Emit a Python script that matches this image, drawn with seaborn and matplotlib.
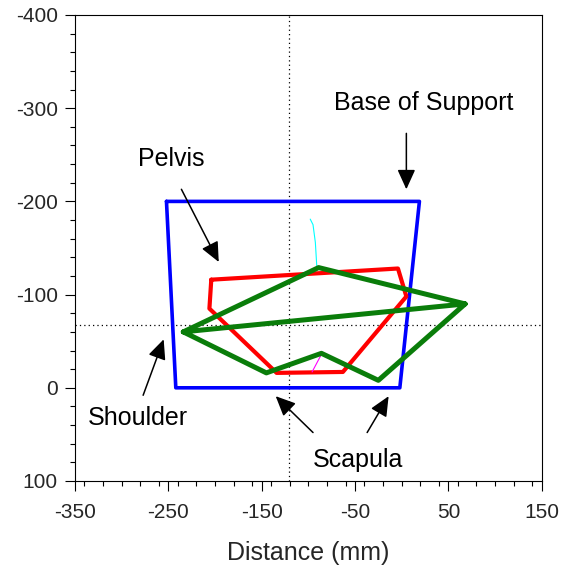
import numpy as np
import matplotlib
matplotlib.use("Agg")
import matplotlib.pyplot as plt
from matplotlib.ticker import MultipleLocator
import seaborn as sns

# Base of support (blue quadrilateral), closed
bos_x = [-252, 19, -2, -242, -252]
bos_y = [-200, -200, 0, 0, -200]

# Pelvis outline (red), closed
pelvis_x = [-204, -4, 5, -63, -134, -206, -204]
pelvis_y = [-116, -128, -98, -17, -16, -85, -116]

# Shoulder / scapula outline (green), traced as one path
scap_x = [-234, -89, 68, -234, -145, -86, -25, 68]
scap_y = [-60, -129, -90, -60, -16, -37, -8, -90]

# thin trace lines
cyan_x = [-98, -95, -92.5, -91]
cyan_y = [-181, -175, -156, -131]
magenta_x = [-96, -87]
magenta_y = [-17, -34]

# reference cross-hair
cross_x = -121
cross_y = -67

# annotations: label, text position, arrow tail, arrow tip
labels = ["Base of Support", "Pelvis", "Shoulder", "Scapula"]
label_pos = [(-73, -306), (-282, -246), (-336, 32), (-95, 77)]
arrows = [((5, -273), (5, -213)),
          ((-236, -213), (-196, -135)),
          ((-277, 8), (-255, -52)),
          ((-95, 48), (-135, 9)),
          ((-37, 48), (-14, 9))]

sns.set_style("ticks")
plt.rcParams['font.family'] = ['Liberation Sans', 'DejaVu Sans']
plt.rcParams['axes.unicode_minus'] = False

fig = plt.figure(figsize=(5.69, 5.68), dpi=100)
ax = fig.add_axes([75 / 569, 1 - 481 / 568, (541.7 - 75) / 569, (481 - 15) / 568])

ax.axvline(cross_x, color="black", lw=0.9, ls=(0, (1, 2.5)), zorder=1)
ax.axhline(cross_y, color="black", lw=0.9, ls=(0, (1, 2.5)), zorder=1)

sns.lineplot(x=bos_x, y=bos_y, sort=False, estimator=None, color="#0000ff", lw=2.6, ax=ax)
sns.lineplot(x=pelvis_x, y=pelvis_y, sort=False, estimator=None, color="#ff0000", lw=3.0, ax=ax)
sns.lineplot(x=cyan_x, y=cyan_y, sort=False, estimator=None, color="#00ffff", lw=0.8, ax=ax)
sns.lineplot(x=magenta_x, y=magenta_y, sort=False, estimator=None, color="#ff00ff", lw=0.8, ax=ax)
sns.lineplot(x=scap_x, y=scap_y, sort=False, estimator=None, color="#0a7d0a", lw=3.6, ax=ax)

for lab, (tx, ty) in zip(labels, label_pos):
    ax.text(tx, ty, lab, fontsize=18, ha="left", va="center", color="black")
for tail, tip in arrows:
    ax.annotate("", xy=tip, xytext=tail,
                arrowprops=dict(arrowstyle="-|>,head_length=0.55,head_width=0.25",
                                mutation_scale=22, lw=1.1, color="black",
                                shrinkA=0, shrinkB=0),
                annotation_clip=False)

ax.set_xlim(-350, 150)
ax.set_ylim(100, -400)
ax.set_xticks(np.arange(-350, 151, 100))
ax.set_yticks(np.arange(-400, 101, 100))
ax.xaxis.set_minor_locator(MultipleLocator(20))
ax.yaxis.set_minor_locator(MultipleLocator(20))
ax.tick_params(which="major", length=7.5, width=0.8, labelsize=15, pad=5, color="black")
ax.tick_params(axis="x", which="major", pad=8)
ax.tick_params(which="minor", length=3.8, width=0.8, color="black")
ax.tick_params(top=False, right=False, which="both")
for s in ax.spines.values():
    s.set_linewidth(0.8)
    s.set_color("black")
ax.set_xlabel("Distance (mm)", fontsize=18, labelpad=14)
ax.set_ylabel("")

fig.savefig("out.png", dpi=100)
